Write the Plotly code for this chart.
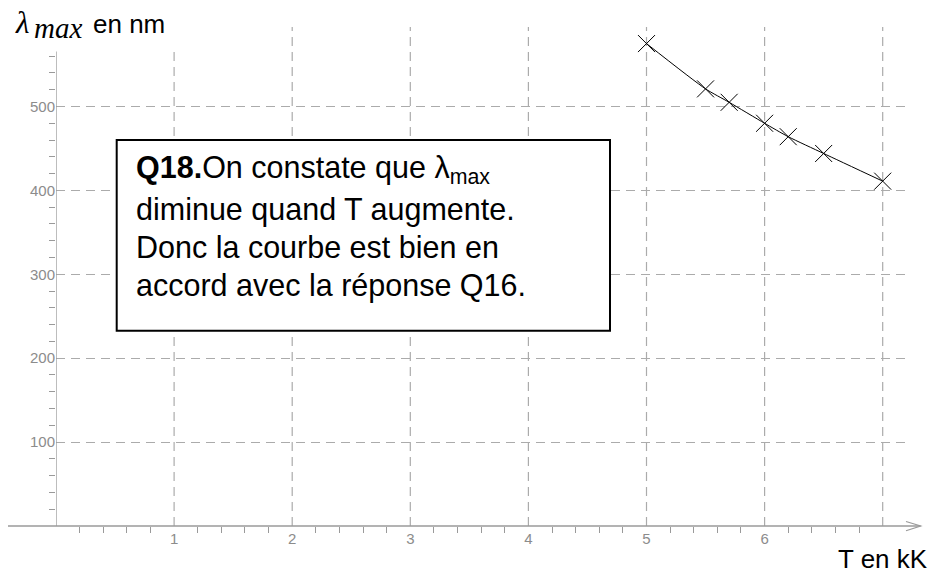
import plotly.graph_objects as go

# Wien's displacement: peak wavelength vs temperature
T_kK = [5.0, 5.5, 5.7, 6.0, 6.2, 6.5, 7.0]
lambda_max_nm = [575, 521, 505, 480, 464, 444, 411]

x_ticks = [1, 2, 3, 4, 5, 6]
x_tick_text = ["1", "2", "3", "4", "5", "6"]
x_grid = [1, 2, 3, 4, 5, 6, 7]
x_minor = [round(0.2 * i, 1) for i in range(1, 35) if i % 5]
y_ticks = [100, 200, 300, 400, 500]
y_tick_text = ["100", "200", "300", "400", "500"]
y_minor = [20 * i for i in range(1, 29) if i % 5]
Y_AXIS_TOP = 565.5

W, H = 933, 573
L, R, TOP, B = 56, 23, 27, 47
PW, PH = W - L - R, H - TOP - B
X_SCALE = 118.1   # pixels per kK
Y_SCALE = 0.839   # pixels per nm

AXIS = "#9a9a9a"
GRID = "#ababab"
LABEL = "#8c8c8c"
DASH = "9px,6px"


def fx(px):
    """pixel column -> paper x"""
    return (px - L) / PW


def fy(py):
    """pixel row -> paper y"""
    return (H - B - py) / PH


fig = go.Figure()

fig.add_trace(go.Scatter(
    x=T_kK, y=lambda_max_nm,
    mode="lines+markers",
    line=dict(color="black", width=1, shape="spline", smoothing=0.6),
    marker=dict(symbol="x-thin", size=17, color="black",
                line=dict(color="black", width=1)),
    cliponaxis=False,
    showlegend=False,
    hoverinfo="x+y",
))

shapes = []
# vertical grid lines (the one at 1 stops below the axis title)
for gx in x_grid:
    top = dict(yref="y", y1=(H - B - 49) / Y_SCALE) if gx == 1 else dict(yref="paper", y1=1)
    shapes.append(dict(type="line", xref="x", x0=gx, x1=gx, y0=0, layer="below",
                       line=dict(color=GRID, width=1.2, dash=DASH), **top))
# y axis line
shapes.append(dict(type="line", xref="x", yref="y", x0=0, x1=0, y0=0, y1=Y_AXIS_TOP,
                   line=dict(color=AXIS, width=1.3)))
# x axis extends left of the origin and ends in an open arrow head
shapes.append(dict(type="line", xref="paper", yref="paper",
                   x0=fx(8), x1=fx(920.5), y0=fy(526), y1=fy(526),
                   line=dict(color=AXIS, width=1.3)))
shapes.append(dict(type="path", xref="paper", yref="paper",
                   path=f"M {fx(906)},{fy(521.5)} L {fx(920.7)},{fy(526)} L {fx(906)},{fy(530.8)}",
                   line=dict(color=AXIS, width=1.2)))
# answer box
shapes.append(dict(type="rect", xref="paper", yref="paper",
                   x0=fx(116.7), x1=fx(610), y0=fy(140), y1=fy(330.7),
                   line=dict(color="black", width=2), fillcolor="white",
                   layer="above"))

annotations = []
SANS = "Liberation Sans, Arial, sans-serif"
SERIF = "Liberation Serif, Times New Roman, serif"

# y axis title: lambda_max en nm
annotations.append(dict(text="<i>λ</i>", xref="paper", yref="paper",
                        x=fx(13), y=fy(23), xanchor="left", yanchor="middle",
                        showarrow=False, font=dict(family=SERIF, size=31, color="black")))
annotations.append(dict(text="<i>max</i>", xref="paper", yref="paper",
                        x=fx(32), y=fy(28), xanchor="left", yanchor="middle",
                        showarrow=False, font=dict(family=SERIF, size=29, color="black")))
annotations.append(dict(text="en nm", xref="paper", yref="paper",
                        x=fx(91), y=fy(24), xanchor="left", yanchor="middle",
                        showarrow=False, font=dict(family=SANS, size=26, color="black")))
# x axis title
annotations.append(dict(text="T en kK", xref="paper", yref="paper",
                        x=fx(930), y=fy(558.6), xanchor="right", yanchor="middle",
                        showarrow=False, font=dict(family=SANS, size=26, color="black")))

# box text, one annotation per line
box_lines = [
    "<b>Q18.</b>On constate que λ<sub>max</sub>",
    "diminue quand T augmente.",
    "Donc la courbe est bien en",
    "accord avec la réponse Q16.",
]
box_centers = [169.8, 209.1, 247.1, 285.8]
for txt, cy in zip(box_lines, box_centers):
    annotations.append(dict(text=txt, xref="paper", yref="paper",
                            x=fx(134), y=fy(cy), xanchor="left", yanchor="middle",
                            showarrow=False,
                            font=dict(family=SANS, size=30.5, color="black")))

fig.update_layout(
    width=W, height=H,
    margin=dict(l=L, r=R, t=TOP, b=B, pad=0),
    paper_bgcolor="white", plot_bgcolor="white",
    shapes=shapes, annotations=annotations,
    showlegend=False,
    xaxis=dict(
        range=[0, PW / X_SCALE],
        tickmode="array", tickvals=x_ticks, ticktext=x_tick_text,
        showgrid=False, zeroline=False, showline=False,
        ticks="", ticklabelstandoff=2,
        tickfont=dict(family=SANS, size=15, color=LABEL),
        minor=dict(ticks="outside", tickmode="array", tickvals=x_minor, ticklen=6,
                   tickcolor=AXIS, tickwidth=1, showgrid=False),
    ),
    yaxis=dict(
        range=[0, PH / Y_SCALE],
        tickmode="array", tickvals=y_ticks, ticktext=y_tick_text,
        showgrid=True, gridcolor=GRID, griddash=DASH, gridwidth=1.2,
        zeroline=False, showline=False,
        ticks="", ticklabelstandoff=0,
        tickfont=dict(family=SANS, size=15, color=LABEL),
        minor=dict(ticks="outside", tickmode="array", tickvals=y_minor, ticklen=6,
                   tickcolor=AXIS, tickwidth=1, showgrid=False),
    ),
)

fig.write_html("out.html")
